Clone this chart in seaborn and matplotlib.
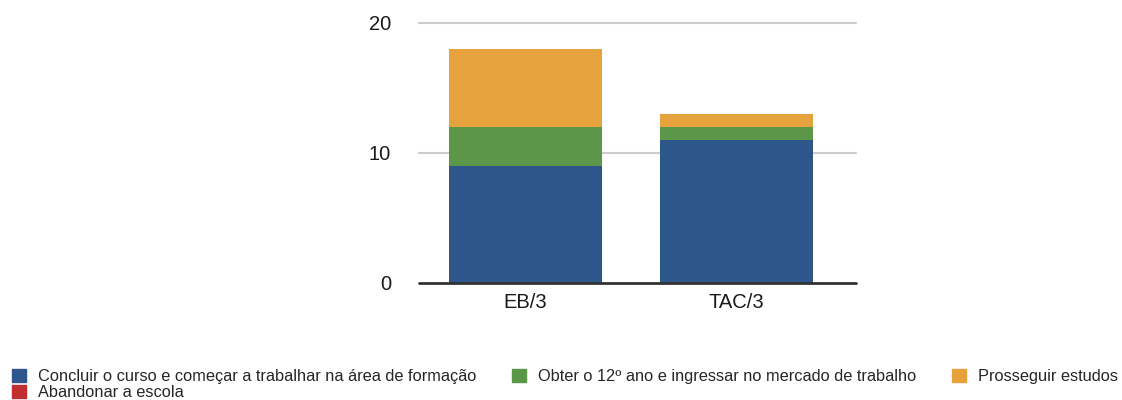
import numpy as np
import pandas as pd
import matplotlib
matplotlib.use("Agg")
import matplotlib.pyplot as plt
import seaborn as sns
from matplotlib.patches import Patch

# data
turmas = ["EB/3", "TAC/3"]
concluir = [9, 11]
obter_12 = [3, 1]
prosseguir = [6, 1]
abandonar = [0, 0]

series_labels = [
    "Concluir o curso e começar a trabalhar na área de formação",
    "Obter o 12º ano e ingressar no mercado de trabalho",
    "Prosseguir estudos",
    "Abandonar a escola",
]
series_colors = ["#2d578b", "#5c9648", "#e6a23c", "#c0302f"]

sns.set_theme(style="white")
plt.rcParams["font.family"] = ["Liberation Sans", "DejaVu Sans"]

fig = plt.figure(figsize=(11.22, 4), dpi=100)
ax = fig.add_axes([0.3734, 0.2925, 0.3895, 0.6508])

# stack by drawing cumulative totals from the top series down
stack = np.array([concluir, obter_12, prosseguir, abandonar], dtype=float)
cum = np.cumsum(stack, axis=0)
for i in range(len(series_labels) - 1, -1, -1):
    df = pd.DataFrame({"turma": turmas, "valor": cum[i]})
    sns.barplot(data=df, x="turma", y="valor", color=series_colors[i],
                saturation=1, width=0.725, linewidth=0, ax=ax, zorder=2)

ax.set_xlim(-0.505, 1.566)
ax.set_ylim(0, 20)
ax.set_yticks([0, 10, 20])
ax.set_xlabel("")
ax.set_ylabel("")
for s in ax.spines.values():
    s.set_visible(False)
ax.grid(False)
for yv in [10, 20]:
    ax.axhline(yv, color="#cccccc", lw=1.5, zorder=1, clip_on=False)
ax.axhline(0, color="#333333", lw=2, zorder=3, clip_on=False)
ax.tick_params(axis="both", length=0, labelsize=14.5, colors="#1a1a1a")
ax.tick_params(axis="y", pad=20)
ax.tick_params(axis="x", pad=7)

handles = [Patch(color=c, label=l) for c, l in zip(series_colors, series_labels)]
order = [0, 3, 1, 2]
fig.legend([handles[i] for i in order], [series_labels[i] for i in order],
           loc="upper left", bbox_to_anchor=(0.0107, 0.077), ncol=3,
           frameon=False, fontsize=11.8, handlelength=0.85, handleheight=0.85,
           handletextpad=0.72, columnspacing=2.2, labelspacing=0.05,
           borderaxespad=0, borderpad=0)

fig.savefig("out.png", dpi=100)
